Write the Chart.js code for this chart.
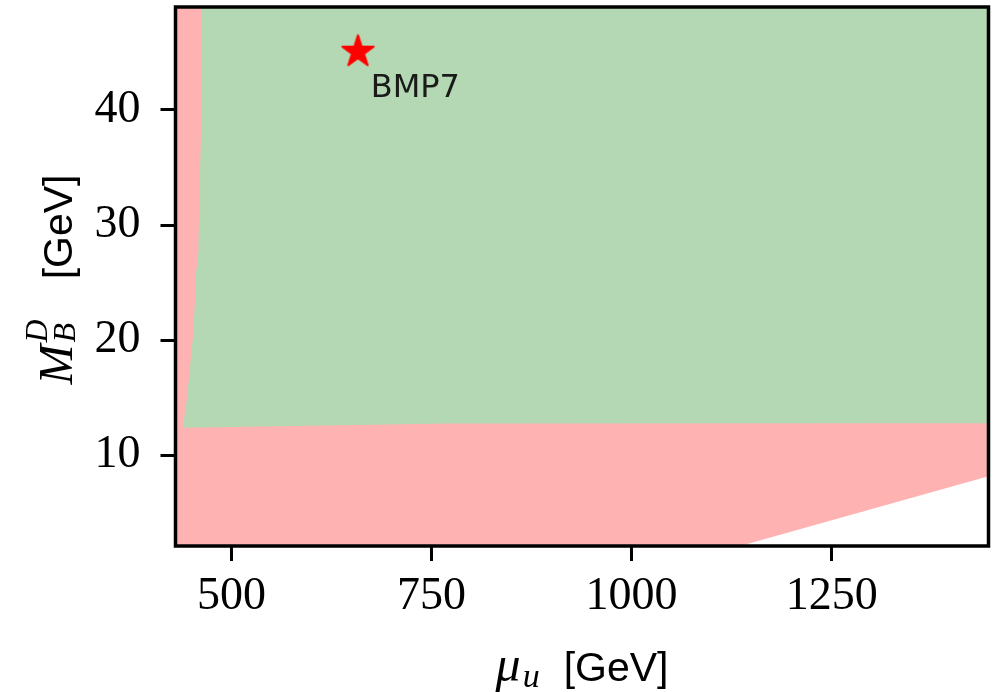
<!DOCTYPE html>
<html>
<head>
<meta charset="utf-8">
<script src="https://cdn.jsdelivr.net/npm/chart.js@4.4.1/dist/chart.umd.min.js"></script>
<style>
  html, body { margin: 0; padding: 0; background: #fff; }
</style>
</head>
<body>
<canvas id="chart" width="996" height="692"></canvas>
<script>
const xLimits = [430, 1446];
const yLimits = [2.1, 48.95];
const xTicks = [500, 750, 1000, 1250];
const yTicks = [10, 20, 30, 40];

// lower edge of the allowed (green) region
const allowedEdgeX = [439.4, 773, 1446];
const allowedEdgeY = [12.37, 12.74, 12.78];

// left edge of the allowed region (excluded strip to its left)
const leftEdgeX = [439.4, 444, 448.1, 452.3, 454.4, 455.6, 458.5, 459.8, 461.9, 462.5, 462.8];
const leftEdgeY = [12.37, 14.78, 17.65, 20.61, 23.48, 25.83, 27.57, 32.17, 38.0, 42.0, 48.95];

// edge of the uncovered corner, bottom right
const openEdgeX = [1135.6, 1446];
const openEdgeY = [2.1, 8.17];

// benchmark point
const bmpX = [658];
const bmpY = [45.2];
const bmpLabel = ['BMP7'];
const bmpLabelX = [674];
const bmpLabelY = [41.1];

const red = 'rgb(255, 178, 178)';
const green = 'rgb(179, 216, 179)';

function edge(xs, ys) {
  return xs.map((x, i) => ({x: x, y: ys[i]}));
}

function starImage(r) {
  const c = document.createElement('canvas');
  const s = Math.ceil(r * 2 + 4);
  c.width = s;
  c.height = s;
  const g = c.getContext('2d');
  g.translate(s / 2, s / 2 + r * 0.1);
  g.beginPath();
  for (let i = 0; i < 10; i++) {
    const rad = i % 2 ? r * 0.382 : r;
    const a = -Math.PI / 2 + i * Math.PI / 5;
    g.lineTo(rad * Math.cos(a), rad * Math.sin(a));
  }
  g.closePath();
  g.fillStyle = '#ff0000';
  g.fill();
  g.lineJoin = 'round';
  g.lineWidth = 2;
  g.strokeStyle = '#ff0000';
  g.stroke();
  return c;
}

// lays out text pieces one after another, centred on cx
function drawParts(ctx, parts, cx, baseY) {
  let pos = 0;
  let prevStart = 0;
  const placed = parts.map(p => {
    ctx.font = p.font;
    const w = ctx.measureText(p.text).width;
    const start = p.stack ? prevStart : pos + (p.gap || 0);
    prevStart = start;
    pos = Math.max(pos, start + w);
    return {p: p, start: start};
  });
  const x0 = cx - pos / 2;
  placed.forEach(({p, start}) => {
    ctx.font = p.font;
    ctx.fillText(p.text, x0 + start, baseY + (p.dy || 0));
  });
}

const decorations = {
  id: 'decorations',
  afterDatasetsDraw(chart) {
    const {ctx, chartArea: a, scales: {x, y}} = chart;
    ctx.save();
    ctx.strokeStyle = '#000';
    ctx.lineWidth = 3.5;
    ctx.strokeRect(a.left, a.top, a.right - a.left, a.bottom - a.top);

    ctx.fillStyle = '#1a1a1a';
    ctx.font = '32px "DejaVu Sans"';
    ctx.textBaseline = 'alphabetic';
    ctx.fillText(bmpLabel[0], x.getPixelForValue(bmpLabelX[0]), y.getPixelForValue(bmpLabelY[0]));
    ctx.restore();
  },
  afterDraw(chart) {
    const {ctx, chartArea: a} = chart;
    const cx = (a.left + a.right) / 2;
    const cy = (a.top + a.bottom) / 2;
    const serifIt = s => 'italic ' + s + 'px "Liberation Serif"';
    const sans = '41px "Liberation Sans"';
    ctx.save();
    ctx.fillStyle = '#000';
    ctx.textBaseline = 'alphabetic';

    // x title: mu_u [GeV]
    drawParts(ctx, [
      {text: 'μ', font: serifIt(50)},
      {text: 'u', font: serifIt(34), gap: 2, dy: 6},
      {text: '[GeV]', font: sans, gap: 24}
    ], cx, a.bottom + 135);

    // y title: M_B^D [GeV]
    ctx.translate(71.7, cy);
    ctx.rotate(-Math.PI / 2);
    drawParts(ctx, [
      {text: 'M', font: serifIt(48)},
      {text: 'D', font: serifIt(32), gap: 2, dy: -25},
      {text: 'B', font: serifIt(32), stack: true, dy: 3},
      {text: '[GeV]', font: sans, gap: 40}
    ], -3, 0);
    ctx.restore();
  }
};

const tickFont = {family: 'Liberation Serif', size: 46};

new Chart(document.getElementById('chart'), {
  type: 'scatter',
  data: {
    datasets: [
      {
        label: 'BMP7',
        data: edge(bmpX, bmpY),
        pointStyle: starImage(16.5),
        pointRadius: 16,
      },
      {
        label: 'excluded (left)',
        data: edge(leftEdgeX, leftEdgeY),
        showLine: true,
        borderWidth: 0,
        pointRadius: 0,
        backgroundColor: red,
        fill: 'end',
      },
      {
        label: 'not covered',
        data: edge(openEdgeX, openEdgeY),
        showLine: true,
        borderWidth: 0,
        pointRadius: 0,
        backgroundColor: '#ffffff',
        fill: 'start',
      },
      {
        label: 'allowed',
        data: edge(allowedEdgeX, allowedEdgeY),
        showLine: true,
        borderWidth: 0,
        pointRadius: 0,
        backgroundColor: green,
        fill: 'end',
      },
      {
        label: 'excluded',
        data: edge(xLimits, [yLimits[1], yLimits[1]]),
        showLine: true,
        borderWidth: 0,
        pointRadius: 0,
        backgroundColor: red,
        fill: 'start',
      },
    ],
  },
  options: {
    responsive: false,
    animation: false,
    layout: {
      padding: {top: 7, right: 7.5, left: 0, bottom: 0},
      autoPadding: false,
    },
    plugins: {
      legend: {display: false},
      tooltip: {enabled: false},
    },
    scales: {
      x: {
        type: 'linear',
        min: xLimits[0],
        max: xLimits[1],
        afterBuildTicks: s => { s.ticks = xTicks.map(v => ({value: v})); },
        afterFit: s => {
          s.height = 146;
          s.paddingLeft = 0;
          s.paddingRight = 0;
        },
        grid: {
          drawOnChartArea: false,
          tickLength: 15,
          lineWidth: 3,
          tickColor: '#000',
        },
        border: {display: false},
        ticks: {
          font: tickFont,
          color: '#000',
          padding: 8,
          maxRotation: 0,
          autoSkip: false,
          callback: v => String(v),
        },
      },
      y: {
        type: 'linear',
        min: yLimits[0],
        max: yLimits[1],
        afterBuildTicks: s => { s.ticks = yTicks.map(v => ({value: v})); },
        afterFit: s => {
          s.width = 175.5;
          s.paddingTop = 0;
          s.paddingBottom = 0;
        },
        grid: {
          drawOnChartArea: false,
          tickLength: 15,
          lineWidth: 3,
          tickColor: '#000',
        },
        border: {display: false},
        ticks: {
          font: tickFont,
          color: '#000',
          padding: 20,
          autoSkip: false,
          callback: v => String(v),
        },
      },
    },
  },
  plugins: [decorations],
});
</script>
</body>
</html>
